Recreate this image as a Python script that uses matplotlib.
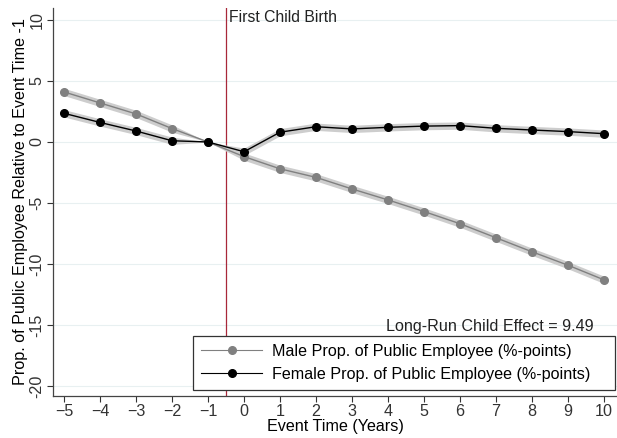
import numpy as np
import matplotlib
matplotlib.use('Agg')
import matplotlib.pyplot as plt

plt.rcParams['font.family'] = ['Liberation Sans', 'DejaVu Sans']

# Event-study estimates (%-points relative to event time -1)
event_time = [-5, -4, -3, -2, -1, 0, 1, 2, 3, 4, 5, 6, 7, 8, 9, 10]
male = [4.1, 3.2, 2.3, 1.1, 0.0, -1.2, -2.2, -2.9, -3.85, -4.75, -5.7, -6.7, -7.85, -9.0, -10.1, -11.3]
female = [2.35, 1.6, 0.9, 0.1, 0.0, -0.8, 0.8, 1.25, 1.07, 1.2, 1.3, 1.34, 1.12, 0.98, 0.85, 0.68]
# half-width of the confidence bands
male_ci = [0.3, 0.3, 0.3, 0.3, 0.0, 0.3, 0.3, 0.3, 0.3, 0.3, 0.3, 0.3, 0.3, 0.3, 0.3, 0.3]
female_ci = [0.3, 0.3, 0.3, 0.3, 0.0, 0.3, 0.3, 0.3, 0.3, 0.3, 0.3, 0.3, 0.3, 0.3, 0.3, 0.3]

x_ticks = list(range(-5, 11))
y_ticks = [-20, -15, -10, -5, 0, 5, 10]
child_effect = 9.49

FS = 11.6

fig = plt.figure(figsize=(6.17, 4.38), dpi=100)
ax = fig.add_axes([53 / 617, 42 / 438, 564 / 617, 388 / 438])

x = np.array(event_time)
for vals, ci in [(male, male_ci), (female, female_ci)]:
    v = np.array(vals)
    c = np.array(ci)
    ax.fill_between(x, v - c, v + c, color='#cdcdcd', lw=0, zorder=2)

ax.plot(event_time, male, color='#808080', lw=1.0, marker='o', ms=5.5,
        mfc='#808080', mec='#808080', zorder=3,
        label='Male Prop. of Public Employee (%-points)')
ax.plot(event_time, female, color='black', lw=1.0, marker='o', ms=5.5,
        mfc='black', mec='black', zorder=4,
        label='Female Prop. of Public Employee (%-points)')

ax.axvline(-0.5, color='#a8283a', lw=0.9, zorder=1)
ax.text(-0.43, 10.85, 'First Child Birth', fontsize=11.3, color='#222222',
        ha='left', va='top')
ax.text(9.72, -15.1, 'Long-Run Child Effect = %.2f' % child_effect,
        fontsize=FS, color='#222222', ha='right', va='center')

ax.set_xlim(-5.306, 10.361)
ax.set_ylim(-20.82, 10.98)
ax.set_xticks(x_ticks)
ax.set_yticks(y_ticks)
ax.set_yticklabels([str(t) for t in y_ticks], rotation=90, va='center')
ax.tick_params(labelsize=FS, colors='#333333', length=4, width=0.8, pad=2)
for yt in y_ticks:
    ax.axhline(yt, color='#e8f0f1', lw=0.8, zorder=0)

for side in ['top', 'right']:
    ax.spines[side].set_visible(False)
for side in ['left', 'bottom']:
    ax.spines[side].set_color('#444444')
    ax.spines[side].set_linewidth(0.9)

ax.set_xlabel('Event Time (Years)', fontsize=FS, labelpad=0)
ax.set_ylabel('Prop. of Public Employee Relative to Event Time -1',
              fontsize=FS, labelpad=1)

leg = ax.legend(loc='lower left', bbox_to_anchor=(140 / 564, 6 / 388, 422 / 564, 53 / 388),
                mode='expand', fontsize=FS, handlelength=3.8, handletextpad=0.6,
                borderpad=0.5, labelspacing=0.5, borderaxespad=0,
                fancybox=False, framealpha=1, edgecolor='#333333')
leg.get_frame().set_linewidth(0.9)
leg.get_lines()[0].set_linewidth(0.8)
leg.get_lines()[1].set_linewidth(0.8)

fig.savefig('out.png', dpi=100)
